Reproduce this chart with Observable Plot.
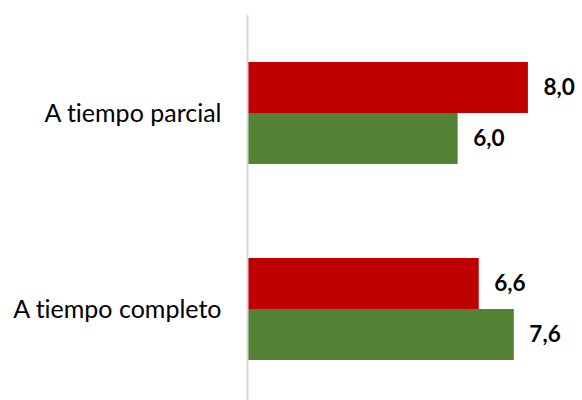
<!DOCTYPE html>
<html>
<head>
<meta charset="utf-8">
<script src="https://cdn.jsdelivr.net/npm/d3@7"></script>
<script src="https://cdn.jsdelivr.net/npm/@observablehq/plot@0.6"></script>
<style>
  html, body { margin: 0; padding: 0; background: #fff; }
  #chart svg { display: block; }
  #chart svg text { font-variant-ligatures: none; font-feature-settings: "liga" 0; }
</style>
</head>
<body>
<div id="chart"></div>
<script>
const categories = ["A tiempo parcial", "A tiempo completo"];
const seriesNames = ["Serie 1", "Serie 2"];
const seriesColors = ["#C00000", "#548235"];
const serie1Values = [8.0, 6.6];
const serie2Values = [6.0, 7.6];

const rows1 = categories.map((c, i) => ({category: c, series: seriesNames[0], value: serie1Values[i]}));
const rows2 = categories.map((c, i) => ({category: c, series: seriesNames[1], value: serie2Values[i]}));

const fmt = v => d3.format(".1f")(v).replace(".", ",");

const half = 51;

const chart = Plot.plot({
  width: 582,
  height: 400,
  marginLeft: 247,
  marginRight: 19,
  marginTop: 15,
  marginBottom: 0,
  style: {fontFamily: "Lato, 'Open Sans', sans-serif", background: "#fff", color: "#000"},
  x: {domain: [0, 9], axis: null},
  y: {domain: categories, paddingInner: 0.48, paddingOuter: 0.222, align: 0.54, label: null},
  color: {domain: seriesNames, range: seriesColors},
  marks: [
    Plot.barX(rows1, {x: "value", y: "category", fill: "series", insetBottom: half, insetTop: 0}),
    Plot.barX(rows2, {x: "value", y: "category", fill: "series", insetTop: half, insetBottom: 0}),
    Plot.ruleX([0], {stroke: "#D9D9D9", strokeWidth: 2}),
    Plot.text(rows1, {x: "value", y: "category", text: d => fmt(d.value), dx: 15, dy: -half / 2, textAnchor: "start", fontWeight: "bold", fontSize: 22.5, fill: "#000"}),
    Plot.text(rows2, {x: "value", y: "category", text: d => fmt(d.value), dx: 15, dy: half / 2, textAnchor: "start", fontWeight: "bold", fontSize: 22.5, fill: "#000"}),
    Plot.axisY({tickSize: 0, tickPadding: 26, fontSize: 25, label: null, fill: "#000"})
  ]
});
document.getElementById("chart").appendChild(chart);
</script>
</body>
</html>
